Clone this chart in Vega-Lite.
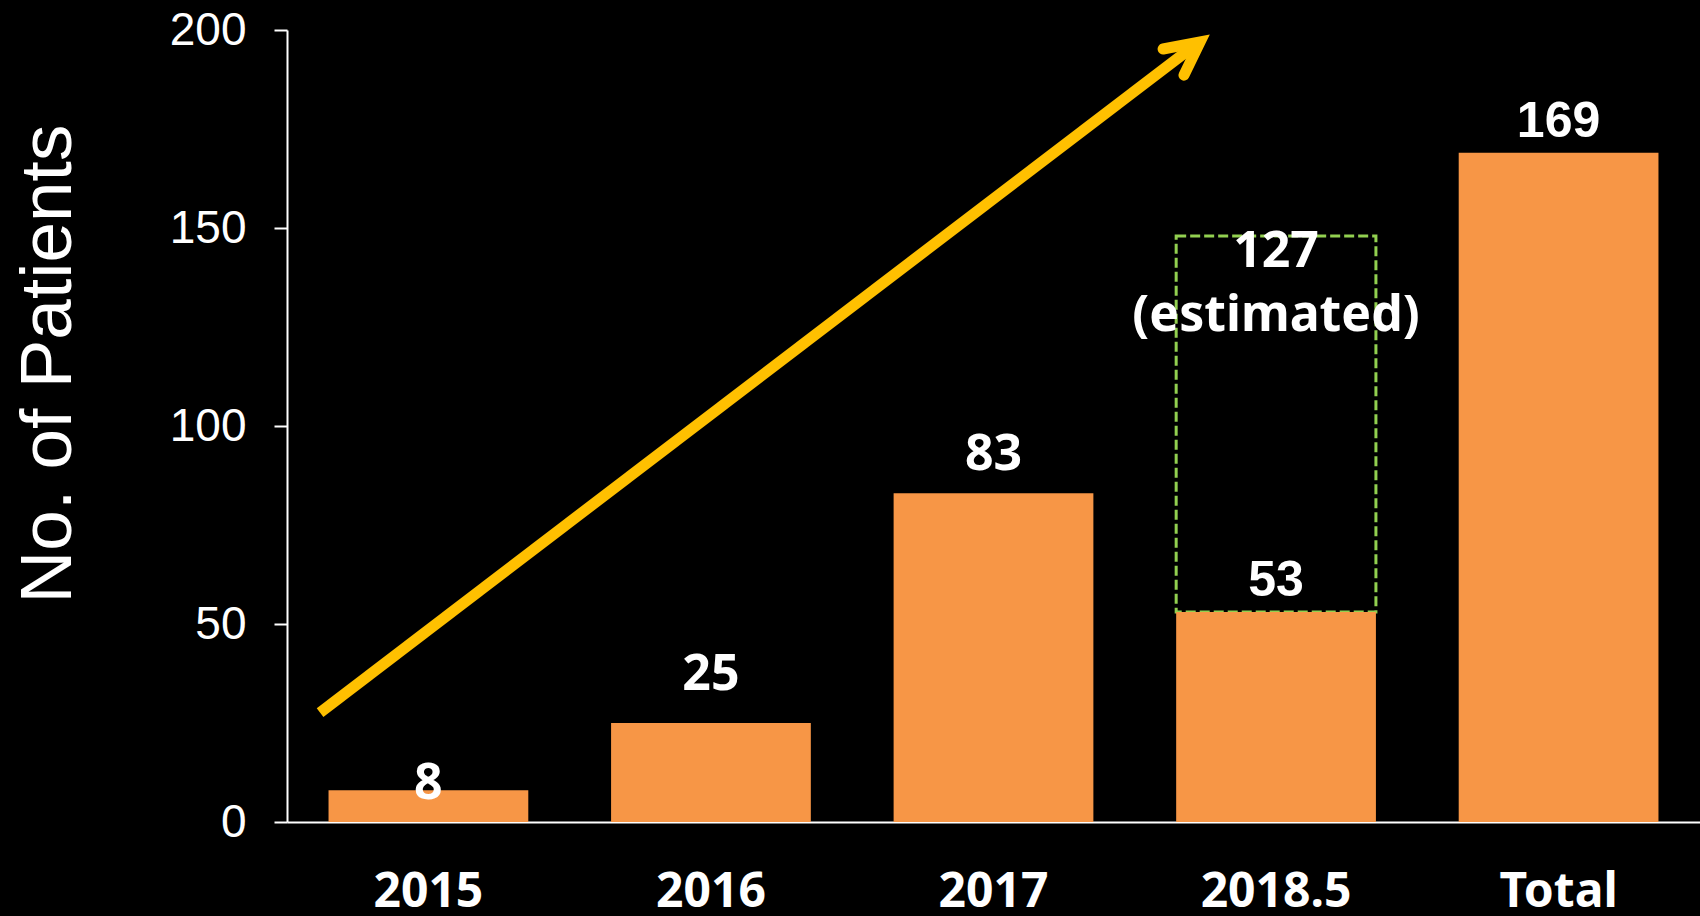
{
  "$schema": "https://vega.github.io/schema/vega-lite/v6.json",
  "width": 1413,
  "height": 792,
  "autosize": {"type": "none"},
  "padding": {"left": 287, "top": 30, "right": 0, "bottom": 94},
  "background": "#000000",
  "config": {"view": {"stroke": null}, "font": "Liberation Sans"},
  "datasets": {
    "bars": [
      {"period": "2015", "patients": 8},
      {"period": "2016", "patients": 25},
      {"period": "2017", "patients": 83},
      {"period": "2018.5", "patients": 53, "estimated": 127, "note": "(estimated)"},
      {"period": "Total", "patients": 169}
    ],
    "arrow": [
      {"part": "shaft", "order": 0, "px": 0.117, "py": 27.65},
      {"part": "shaft", "order": 1, "px": 3.213, "py": 196.2},
      {"part": "head", "order": 0, "px": 3.100, "py": 195.2},
      {"part": "head", "order": 1, "px": 3.231, "py": 197.0},
      {"part": "head", "order": 2, "px": 3.174, "py": 188.6}
    ]
  },
  "resolve": {"scale": {"x": "independent"}, "axis": {"x": "independent"}},
  "layer": [
    {
      "data": {"name": "bars"},
      "encoding": {
        "x": {
          "field": "period", "type": "nominal", "sort": ["2015", "2016", "2017", "2018.5", "Total"],
          "scale": {"paddingInner": 0.293, "paddingOuter": 0.147},
          "axis": {
            "title": null, "labelAngle": 0, "labelFontSize": 48, "labelFont": "Noto Sans",
            "labelFontWeight": "bold", "labelColor": "#ffffff", "ticks": false, "tickSize": 0,
            "labelPadding": 84, "labelBaseline": "alphabetic", "domainColor": "#ffffff", "domainWidth": 2
          }
        },
        "y": {
          "field": "patients", "type": "quantitative",
          "scale": {"domain": [0, 200], "nice": false},
          "axis": {
            "values": [0, 50, 100, 150, 200], "grid": false,
            "title": "No. of Patients", "titleFontSize": 73, "titleFont": "Liberation Sans",
            "titleFontWeight": "normal", "titleColor": "#ffffff", "titleX": -217, "titleY": 333.5,
            "titleAngle": -90, "titleAlign": "center", "titleBaseline": "alphabetic",
            "labelFontSize": 46, "labelFont": "Liberation Sans", "labelColor": "#ffffff",
            "labelPadding": 28, "tickSize": 13, "tickColor": "#ffffff", "tickWidth": 2,
            "domainColor": "#ffffff", "domainWidth": 2
          }
        }
      },
      "layer": [
        {
          "transform": [{"filter": "isValid(datum.estimated)"}],
          "mark": {"type": "bar", "fillOpacity": 0, "stroke": "#92D050", "strokeWidth": 3, "strokeDash": [10, 4], "yOffset": -83, "x2Offset": 3},
          "encoding": {"y": {"field": "estimated", "type": "quantitative"}, "y2": {"field": "patients"}}
        },
        {"mark": {"type": "bar", "color": "#F79646"}},
        {
          "transform": [{"filter": "datum.period == '2015'"}],
          "mark": {"type": "text", "font": "Noto Sans", "fontWeight": "bold", "fontSize": 50, "color": "#ffffff", "baseline": "alphabetic", "dy": 9},
          "encoding": {"text": {"field": "patients"}}
        },
        {
          "transform": [{"filter": "datum.period == '2016'"}],
          "mark": {"type": "text", "font": "Noto Sans", "fontWeight": "bold", "fontSize": 50, "color": "#ffffff", "baseline": "alphabetic", "dy": -33},
          "encoding": {"text": {"field": "patients"}}
        },
        {
          "transform": [{"filter": "datum.period == '2017'"}],
          "mark": {"type": "text", "font": "Noto Sans", "fontWeight": "bold", "fontSize": 50, "color": "#ffffff", "baseline": "alphabetic", "dy": -23},
          "encoding": {"text": {"field": "patients"}}
        },
        {
          "transform": [{"filter": "datum.period == '2018.5' || datum.period == 'Total'"}],
          "mark": {"type": "text", "font": "Liberation Sans", "fontWeight": "bold", "fontSize": 50, "color": "#ffffff", "baseline": "alphabetic", "dy": -16},
          "encoding": {"text": {"field": "patients"}}
        },
        {
          "transform": [{"filter": "isValid(datum.estimated)"}],
          "mark": {"type": "text", "font": "Noto Sans", "fontWeight": "bold", "fontSize": 50, "color": "#ffffff", "baseline": "alphabetic", "dy": -52},
          "encoding": {"y": {"field": "estimated", "type": "quantitative"}, "text": {"field": "estimated"}}
        },
        {
          "transform": [{"filter": "isValid(datum.estimated)"}],
          "mark": {"type": "text", "font": "Noto Sans", "fontWeight": "bold", "fontSize": 50, "color": "#ffffff", "baseline": "alphabetic", "dy": 12},
          "encoding": {"y": {"field": "estimated", "type": "quantitative"}, "text": {"field": "note"}}
        }
      ]
    },
    {
      "data": {"name": "arrow"},
      "encoding": {
        "x": {"field": "px", "type": "quantitative", "scale": {"domain": [0, 5], "nice": false, "zero": false}, "axis": null},
        "y": {"field": "py", "type": "quantitative"},
        "order": {"field": "order"}
      },
      "layer": [
        {
          "transform": [{"filter": "datum.part == 'shaft'"}],
          "mark": {"type": "line", "color": "#FFC000", "strokeWidth": 11, "strokeCap": "butt"}
        },
        {
          "transform": [{"filter": "datum.part == 'head'"}],
          "mark": {"type": "line", "color": "#FFC000", "strokeWidth": 11, "strokeCap": "round", "strokeJoin": "miter", "strokeMiterLimit": 10}
        }
      ]
    }
  ]
}
